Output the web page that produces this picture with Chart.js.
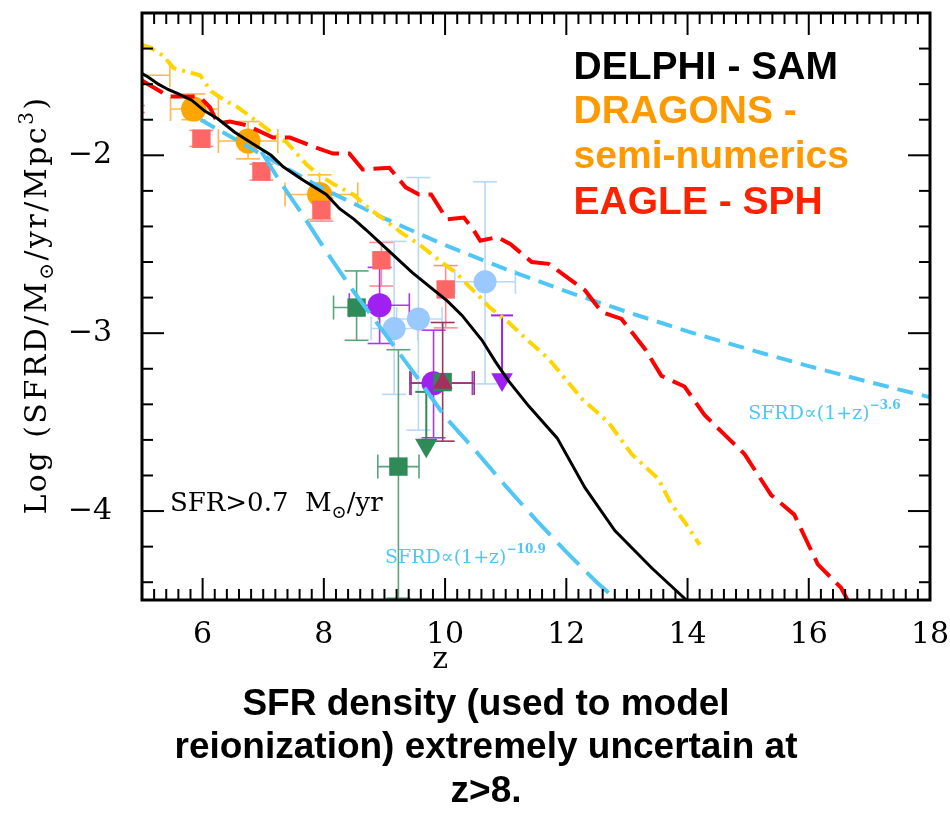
<!DOCTYPE html>
<html>
<head>
<meta charset="utf-8">
<script src="https://cdn.jsdelivr.net/npm/chart.js@4.4.1/dist/chart.umd.min.js"></script>
<style>
  html, body { margin: 0; padding: 0; background: #fff; }
</style>
</head>
<body>
<canvas id="sfrd" width="950" height="814"></canvas>
<script>
// tick labels
const zTicks = [6, 8, 10, 12, 14, 16, 18];
const logTicks = [-4, -3, -2];

// model curves
const delphiZ = [5.0, 5.1, 5.27, 5.43, 5.6, 5.82, 6.03, 6.25, 6.53, 6.8, 7.13, 7.33, 7.66, 8.04, 8.26, 8.5, 8.7, 8.92, 9.46, 10.04, 10.28, 10.61, 10.83, 11.05, 11.38, 11.85, 12.31, 12.8, 13.41, 13.98];
const delphiY = [-1.54, -1.56, -1.6, -1.63, -1.655, -1.69, -1.75, -1.795, -1.87, -1.93, -2.0, -2.065, -2.14, -2.22, -2.3, -2.36, -2.42, -2.49, -2.66, -2.82, -2.9, -3.04, -3.16, -3.27, -3.41, -3.59, -3.87, -4.11, -4.32, -4.5];

const dragonsZ = [5.0, 5.14, 5.35, 5.52, 5.96, 6.14, 6.36, 6.58, 6.8, 7.02, 7.24, 7.38, 7.71, 7.88, 8.15, 8.48, 8.75, 9.03, 9.3, 9.57, 9.9, 10.18, 10.39, 10.61, 10.72, 11.05, 11.33, 11.71, 12.26, 12.69, 13.08, 13.52, 13.73, 13.95, 14.2];
const dragonsY = [-1.38, -1.395, -1.44, -1.51, -1.55, -1.64, -1.69, -1.73, -1.785, -1.84, -1.9, -1.925, -2.05, -2.1, -2.16, -2.22, -2.3, -2.37, -2.44, -2.5, -2.59, -2.66, -2.735, -2.81, -2.85, -2.94, -3.03, -3.145, -3.37, -3.5, -3.68, -3.82, -3.96, -4.06, -4.19];

const eagleZ = [5.0, 5.15, 5.45, 5.65, 5.95, 6.12, 6.25, 6.45, 6.72, 7.16, 7.44, 7.82, 8.15, 8.42, 8.64, 9.08, 9.35, 9.57, 9.77, 10.03, 10.31, 10.45, 10.58, 10.86, 11.08, 11.43, 11.71, 12.31, 12.58, 12.91, 13.3, 13.57, 13.95, 14.28, 14.61, 14.94, 15.38, 15.76, 16.15, 16.53, 16.64];
const eagleY = [-1.58, -1.61, -1.67, -1.67, -1.67, -1.73, -1.82, -1.81, -1.83, -1.9, -1.9, -1.95, -1.99, -1.99, -2.08, -2.07, -2.18, -2.22, -2.22, -2.36, -2.35, -2.41, -2.48, -2.46, -2.5, -2.6, -2.61, -2.76, -2.88, -2.92, -3.09, -3.24, -3.3, -3.46, -3.57, -3.68, -3.91, -4.02, -4.3, -4.43, -4.5];

// power-law guides, SFRD ∝ (1+z)^-10.9 and (1+z)^-3.6
const steepZ = [6.97, 7.3, 7.66, 8.0, 8.5, 9.0, 9.5, 10.0, 10.5, 11.0, 11.5, 12.0, 12.5, 12.83];
const steepY = [-1.98, -2.16, -2.34, -2.52, -2.77, -3.0, -3.23, -3.47, -3.66, -3.86, -4.05, -4.23, -4.4, -4.5];
const shallowZ = [5.97, 7, 8, 9, 10, 11, 12, 13, 14, 15, 16, 17, 18];
const shallowY = [-1.8, -2.0, -2.19, -2.355, -2.505, -2.64, -2.765, -2.88, -2.99, -3.09, -3.185, -3.275, -3.36];

// observations
const orangeZ = [4.8, 5.85, 6.75, 7.93];
const orangeY = [-1.55, -1.74, -1.92, -2.22];
const orangeZLo = [4.3, 5.47, 6.26, 7.36];
const orangeZHi = [5.46, 6.26, 7.24, 8.56];
const orangeYLo = [-1.62, -1.8, -2.02, -2.36];
const orangeYHi = [-1.49, -1.655, -1.81, -2.11];

const pinkZ = [4.85, 5.98, 6.97, 7.96, 8.95, 10.01];
const pinkY = [-1.74, -1.907, -2.09, -2.307, -2.59, -2.754];
const pinkYLo = [-1.76, -1.95, -2.14, -2.37, -2.735, -2.97];
const pinkYHi = [-1.72, -1.86, -2.05, -2.24, -2.49, -2.62];

const blueZ = [9.16, 9.56, 10.66];
const blueY = [-2.974, -2.92, -2.711];
const blueZLo = [8.78, 9.2, 10.16];
const blueZHi = [9.55, 9.95, 11.16];
const blueYLo = [-3.344, -3.545, -3.285];
const blueYHi = [-2.484, -2.125, -2.149];

const purpleZ = [8.92, 9.81];
const purpleY = [-2.843, -3.281];
const purpleZLo = [8.42, 9.44];
const purpleZHi = [9.41, 10.45];
const purpleYLo = [-3.058, -3.588];
const purpleYHi = [-2.63, -2.983];

const greenZ = [8.54, 9.23, 9.96];
const greenY = [-2.856, -3.75, -3.275];
const greenZLo = [8.16, 8.89, 9.96];
const greenZHi = [8.9, 9.57, 9.96];
const greenYLo = [-3.04, -4.49, -3.275];
const greenYHi = [-2.65, -3.093, -3.275];

const maroonZ = [9.96];
const maroonY = [-3.28];
const maroonZLo = [9.42];
const maroonZHi = [10.48];
const maroonYLo = [-3.607];
const maroonYHi = [-2.94];

// upper limits (arrow from top value down to the triangle)
const purpleLimZ = [10.94];
const purpleLimY = [-3.26];
const purpleLimTop = [-2.9];
const greenLimZ = [9.69];
const greenLimY = [-3.63];
const greenLimTop = [-3.33];

const SERIF = "'DejaVu Serif', serif";
const SANS = "'Liberation Sans', Arial, sans-serif";
const SKY = '#4FC6F5';

function pts(xs, ys) {
    return xs.map((x, i) => ({ x: x, y: ys[i] }));
}

function curve(label, xs, ys, color, width, dash) {
    return {
        label: label, data: pts(xs, ys), showLine: true, borderColor: color,
        borderWidth: width, borderDash: dash, pointRadius: 0, tension: 0, clip: 0
    };
}

function marks(label, xs, ys, color, style, r, rot) {
    return {
        label: label, data: pts(xs, ys), showLine: false, pointStyle: style,
        pointRadius: r, pointRotation: rot || 0, backgroundColor: color,
        borderWidth: 0, clip: 0
    };
}

const errSets = [
    { z: orangeZ, y: orangeY, zLo: orangeZLo, zHi: orangeZHi, yLo: orangeYLo, yHi: orangeYHi, color: '#FFB84D', cap: 12 },
    { z: pinkZ, y: pinkY, yLo: pinkYLo, yHi: pinkYHi, color: '#FF8F8F', cap: 12 },
    { z: blueZ, y: blueY, zLo: blueZLo, zHi: blueZHi, yLo: blueYLo, yHi: blueYHi, color: '#B8D8FA', cap: 12 },
    { z: purpleZ, y: purpleY, zLo: purpleZLo, zHi: purpleZHi, yLo: purpleYLo, yHi: purpleYHi, color: '#A838F0', cap: 12 },
    { z: greenZ, y: greenY, zLo: greenZLo, zHi: greenZHi, yLo: greenYLo, yHi: greenYHi, color: '#5AA47B', cap: 12 },
    { z: maroonZ, y: maroonY, zLo: maroonZLo, zHi: maroonZHi, yLo: maroonYLo, yHi: maroonYHi, color: '#9C3563', cap: 12 }
];
const limSets = [
    { z: purpleLimZ, y: purpleLimY, top: purpleLimTop, color: '#A020F0', cap: 11 },
    { z: greenLimZ, y: greenLimY, top: greenLimTop, color: '#2E8B57', cap: 11 }
];

function seg(ctx, x0, y0, x1, y1) {
    ctx.beginPath();
    ctx.moveTo(x0, y0);
    ctx.lineTo(x1, y1);
    ctx.stroke();
}

const errorBars = {
    id: 'errorBars',
    beforeDatasetsDraw(chart) {
        const { ctx, chartArea: a, scales: { x, y } } = chart;
        ctx.save();
        ctx.beginPath();
        ctx.rect(a.left, a.top, a.right - a.left, a.bottom - a.top);
        ctx.clip();
        ctx.lineWidth = 1.6;
        errSets.forEach(s => {
            ctx.strokeStyle = s.color;
            s.z.forEach((z, i) => {
                const px = x.getPixelForValue(z), py = y.getPixelForValue(s.y[i]);
                if (s.yLo) {
                    const lo = y.getPixelForValue(s.yLo[i]), hi = y.getPixelForValue(s.yHi[i]);
                    if (lo !== hi) {
                        seg(ctx, px, lo, px, hi);
                        seg(ctx, px - s.cap, lo, px + s.cap, lo);
                        seg(ctx, px - s.cap, hi, px + s.cap, hi);
                    }
                }
                if (s.zLo) {
                    const lo = x.getPixelForValue(s.zLo[i]), hi = x.getPixelForValue(s.zHi[i]);
                    if (lo !== hi) {
                        seg(ctx, lo, py, hi, py);
                        seg(ctx, lo, py - s.cap, lo, py + s.cap);
                        seg(ctx, hi, py - s.cap, hi, py + s.cap);
                    }
                }
            });
        });
        ctx.lineWidth = 2;
        limSets.forEach(s => {
            ctx.strokeStyle = s.color;
            s.z.forEach((z, i) => {
                const px = x.getPixelForValue(z), py = y.getPixelForValue(s.y[i]);
                const top = y.getPixelForValue(s.top[i]);
                seg(ctx, px, top, px, py);
                seg(ctx, px - s.cap, top, px + s.cap, top);
            });
        });
        ctx.restore();
    }
};

const frame = {
    id: 'frame',
    afterDatasetsDraw(chart) {
        const { ctx, chartArea: a, scales: { x, y } } = chart;
        ctx.save();
        ctx.strokeStyle = '#000';
        ctx.lineWidth = 2;
        for (let k = 26; k < 90; k++) {
            const px = x.getPixelForValue(k / 5);
            const len = k % 10 === 0 ? 22 : 11;
            seg(ctx, px, a.bottom, px, a.bottom - len);
            seg(ctx, px, a.top, px, a.top + len);
        }
        for (let k = -22; k < -6; k++) {
            const py = y.getPixelForValue(k / 5);
            const len = k % 5 === 0 ? 22 : 11;
            seg(ctx, a.left, py, a.left + len, py);
            seg(ctx, a.right, py, a.right - len, py);
        }
        ctx.lineWidth = 3;
        ctx.strokeRect(a.left, a.top, a.right - a.left, a.bottom - a.top);
        ctx.restore();
    }
};

function rich(ctx, x, y, parts, align) {
    let w = 0;
    parts.forEach(p => { ctx.font = p.font; p.w = ctx.measureText(p.t).width; w += p.w; });
    let cx = align === 'center' ? x - w / 2 : x;
    ctx.textAlign = 'left';
    parts.forEach(p => {
        ctx.font = p.font;
        ctx.fillText(p.t, cx, y + (p.dy || 0));
        cx += p.w;
    });
}

const notes = {
    id: 'notes',
    afterDraw(chart) {
        const { ctx, scales: { x, y } } = chart;
        ctx.save();
        ctx.textBaseline = 'alphabetic';

        // model legend
        const lx = x.getPixelForValue(12.12);
        ctx.font = 'bold 39px ' + SANS;
        ctx.fillStyle = '#000';
        ctx.fillText('DELPHI - SAM', lx, y.getPixelForValue(-1.57));
        ctx.fillStyle = '#FF9900';
        ctx.fillText('DRAGONS -', lx, y.getPixelForValue(-1.82));
        ctx.fillText('semi-numerics', lx, y.getPixelForValue(-2.07));
        ctx.fillStyle = '#FF2200';
        ctx.fillText('EAGLE - SPH', lx, y.getPixelForValue(-2.33));

        // threshold note
        ctx.fillStyle = '#000';
        const f26 = '26px ' + SERIF, f18 = '18px ' + SERIF;
        rich(ctx, x.getPixelForValue(5.46), y.getPixelForValue(-4.0), [
            { t: 'SFR>0.7  M', font: f26 }, { t: '⊙', font: f18, dy: 7 }, { t: '/yr', font: f26 }
        ]);

        // power-law labels
        ctx.fillStyle = SKY;
        const f19 = '19px ' + SERIF, f12 = 'bold 12px ' + SERIF;
        rich(ctx, x.getPixelForValue(9.01), y.getPixelForValue(-4.29), [
            { t: 'SFRD∝(1+z)', font: f19 }, { t: '−10.9', font: f12, dy: -10 }
        ]);
        rich(ctx, x.getPixelForValue(15.0), y.getPixelForValue(-3.48), [
            { t: 'SFRD∝(1+z)', font: f19 }, { t: '−3.6', font: f12, dy: -10 }
        ]);

        // axis titles
        ctx.fillStyle = '#000';
        rich(ctx, x.getPixelForValue(9.92), 668, [{ t: 'z', font: '30px ' + SERIF }], 'center');
        ctx.save();
        ctx.translate(46, 305);
        ctx.rotate(-Math.PI / 2);
        ctx.letterSpacing = '2.5px';
        const f30 = '30px ' + SERIF, f20 = '20px ' + SERIF;
        rich(ctx, 0, 0, [
            { t: 'Log (SFRD/M', font: f30 }, { t: '⊙', font: f20, dy: 7 },
            { t: '/yr/Mpc', font: f30 }, { t: '3', font: f20, dy: -13 }, { t: ')', font: f30 }
        ], 'center');
        ctx.restore();

        // caption
        ctx.font = 'bold 37px ' + SANS;
        ctx.textAlign = 'center';
        ctx.fillText('SFR density (used to model', 486, 715);
        ctx.fillText('reionization) extremely uncertain at', 486, 758);
        ctx.fillText('z>8.', 486, 802);
        ctx.restore();
    }
};

// drop the label overhang padding so the frame sits where the reference has it
function noOverhang(s) {
    s.paddingTop = 0;
    s.paddingBottom = 0;
    s.paddingLeft = 0;
    s.paddingRight = 0;
}

const config = {
    type: 'scatter',
    data: {
        datasets: [
            curve('DELPHI - SAM', delphiZ, delphiY, '#000000', 3, []),
            curve('EAGLE - SPH', eagleZ, eagleY, '#FF0000', 4, [24, 9]),
            curve('DRAGONS', dragonsZ, dragonsY, '#FFD400', 4, [14, 6, 3, 6]),
            curve('(1+z)^-10.9', steepZ, steepY, SKY, 4, [30, 11]),
            curve('(1+z)^-3.6', shallowZ, shallowY, SKY, 4, [16, 9]),
            marks('maroon', maroonZ, maroonY, '#A5305F', 'triangle', 11.5),
            marks('purple limit', purpleLimZ, purpleLimY, '#A020F0', 'triangle', 12.5, 180),
            marks('green limit', greenLimZ, greenLimY, '#2E8B57', 'triangle', 13, 180),
            marks('green', greenZ, greenY, '#2E8B57', 'rect', 13),
            marks('purple', purpleZ, purpleY, '#A020F0', 'circle', 12),
            marks('light blue', blueZ, blueY, '#99C9FF', 'circle', 11.5),
            marks('pink', pinkZ, pinkY, '#FF6666', 'rect', 13),
            marks('orange', orangeZ, orangeY, '#FFA500', 'circle', 12.5)
        ]
    },
    options: {
        responsive: false,
        devicePixelRatio: 1,
        animation: false,
        layout: { padding: { left: 0, right: 20, top: 9, bottom: 0 } },
        plugins: { legend: { display: false }, tooltip: { enabled: false } },
        scales: {
            x: {
                type: 'linear', min: 5, max: 18,
                grid: { display: false }, border: { display: false },
                ticks: { color: '#000', font: { family: SERIF, size: 30 }, padding: 9, maxRotation: 0, autoSkip: false },
                afterBuildTicks: s => { s.ticks = zTicks.map(v => ({ value: v })); },
                afterFit: s => { s.height = 214; noOverhang(s); }
            },
            y: {
                type: 'linear', min: -4.5, max: -1.2,
                grid: { display: false }, border: { display: false },
                ticks: {
                    color: '#000', font: { family: SERIF, size: 30 }, padding: 22,
                    callback: v => '−' + Math.abs(v)
                },
                afterBuildTicks: s => { s.ticks = logTicks.map(v => ({ value: v })); },
                afterFit: s => { s.width = 142; noOverhang(s); }
            }
        }
    },
    plugins: [errorBars, frame, notes]
};

const sfrdChart = new Chart(document.getElementById('sfrd'), config);
</script>
</body>
</html>
